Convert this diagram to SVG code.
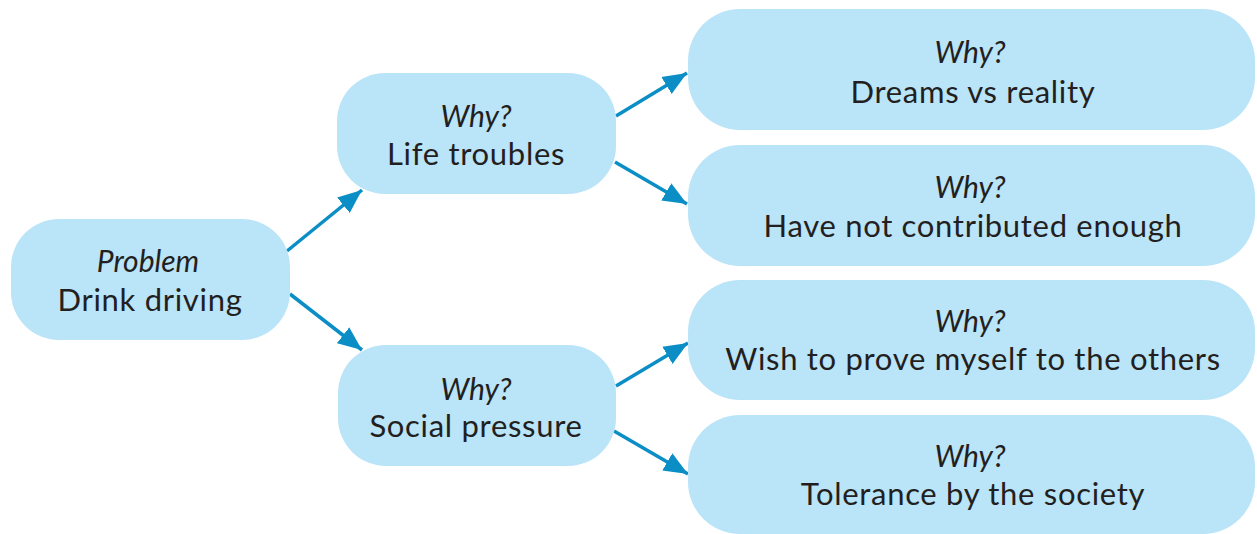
<svg xmlns="http://www.w3.org/2000/svg" width="1257" height="534" viewBox="0 0 1257 534">
<defs>
<style>
.box{fill:#bae4f8;}
.t{font-family:Lato,"Open Sans","Liberation Sans",sans-serif;font-size:31px;letter-spacing:0.7px;fill:#231f20;text-anchor:middle;}
.i{font-style:italic;font-size:30px;letter-spacing:0;}
.c{stroke:#0b8ec5;stroke-width:3.5;fill:none;marker-end:url(#ah);}
</style>
<marker id="ah" markerUnits="userSpaceOnUse" markerWidth="26" markerHeight="22" refX="24" refY="11" orient="auto">
<path d="M0,1 L24,11 L0,21 Z" fill="#0b8ec5"/>
</marker>
</defs>
<rect width="1257" height="534" fill="#ffffff"/>
<g id="connectors">
<line class="c" x1="287" y1="251" x2="362" y2="190"/>
<line class="c" x1="290" y1="294" x2="362" y2="350"/>
<line class="c" x1="616" y1="116" x2="687" y2="73"/>
<line class="c" x1="615" y1="162" x2="687" y2="204"/>
<line class="c" x1="616" y1="386" x2="688" y2="343"/>
<line class="c" x1="614" y1="431" x2="688" y2="474"/>
</g>
<g id="n-problem">
<rect class="box" x="11" y="219" width="279" height="121" rx="48"/>
<text class="t i" x="148" y="272">Problem</text>
<text class="t" x="150" y="311">Drink driving</text>
</g>
<g id="n-life">
<rect class="box" x="337" y="73" width="279" height="121" rx="48"/>
<text class="t i" x="476" y="127">Why?</text>
<text class="t" x="476" y="165">Life troubles</text>
</g>
<g id="n-social">
<rect class="box" x="338" y="345" width="278" height="121" rx="48"/>
<text class="t i" x="476" y="400">Why?</text>
<text class="t" x="476" y="437">Social pressure</text>
</g>
<g id="n-dreams">
<rect class="box" x="688" y="9" width="567" height="121" rx="52"/>
<text class="t i" x="970" y="63">Why?</text>
<text class="t" x="973" y="103">Dreams vs reality</text>
</g>
<g id="n-contrib">
<rect class="box" x="688" y="145" width="567" height="121" rx="52"/>
<text class="t i" x="970" y="198">Why?</text>
<text class="t" x="973" y="237">Have not contributed enough</text>
</g>
<g id="n-prove">
<rect class="box" x="688" y="280" width="567" height="120" rx="52"/>
<text class="t i" x="970" y="332">Why?</text>
<text class="t" x="973" y="370">Wish to prove myself to the others</text>
</g>
<g id="n-tolerance">
<rect class="box" x="688" y="415" width="567" height="119" rx="52"/>
<text class="t i" x="970" y="467">Why?</text>
<text class="t" x="973" y="505">Tolerance by the society</text>
</g>
</svg>
